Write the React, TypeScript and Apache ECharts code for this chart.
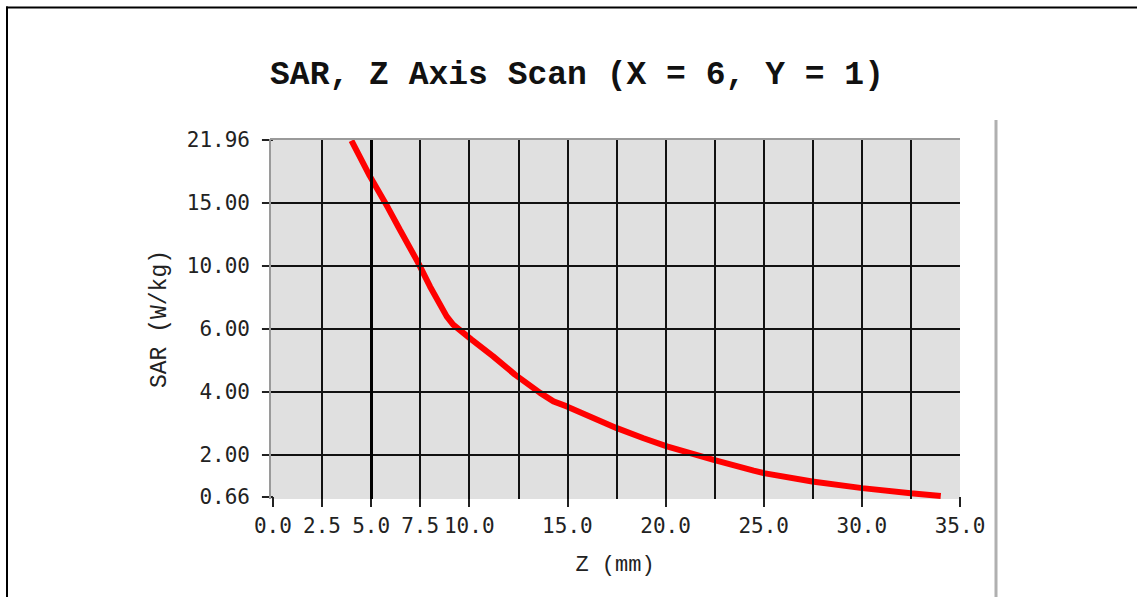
import React, { useEffect, useRef } from "react";
import * as echarts from "echarts";

// ---- data ----
const zValues = [4.0, 4.93, 5.87, 6.46, 7.4, 8.0, 8.85, 9.18, 10.12, 11.22, 12.33, 13.61, 14.29, 14.97, 17.52, 18.88, 20.07, 22.45, 24.49, 25.0, 27.47, 30.02, 32.49, 34.02];
const sarValues = [21.9, 18.0, 14.6, 12.9, 10.25, 8.7, 6.8, 6.28, 5.66, 5.13, 4.55, 3.97, 3.7, 3.54, 2.85, 2.53, 2.27, 1.84, 1.5, 1.42, 1.15, 0.94, 0.78, 0.69];

// ---- axis ticks ----
const xTickValues = [0, 2.5, 5, 7.5, 10, 15, 20, 25, 30, 35];
const yTickLabels = ["0.66", "2.00", "4.00", "6.00", "10.00", "15.00", "21.96"];
const yTickValues = [0.66, 2, 4, 6, 10, 15, 21.96];
// display slots of the (piecewise-linear) SAR scale
const yTickSlots = [0, 2, 5, 8, 11, 14, 17];

const titleText = "SAR, Z Axis Scan (X = 6, Y = 1)";
const xName = "Z (mm)";
const yName = "SAR (W/kg)";

function sarToSlot(v: number): number {
  for (let i = 0; i < yTickValues.length - 1; i++) {
    const a = yTickValues[i], b = yTickValues[i + 1];
    if (v <= b || i === yTickValues.length - 2) {
      const t = (v - a) / (b - a);
      return yTickSlots[i] + t * (yTickSlots[i + 1] - yTickSlots[i]);
    }
  }
  return 0;
}

const X_MIN = -0.15, X_MAX = 35;
const Y_MIN = -0.1, Y_MAX = 17.05;

export default function App() {
  const ref = useRef<HTMLDivElement>(null);
  useEffect(() => {
    document.body.style.margin = "0";
    const chart = echarts.init(ref.current!, undefined, { renderer: "svg" });
    const labelFont = "'DejaVu Sans Mono', monospace";
    const serifMono = "'Liberation Mono', 'Courier New', monospace";

    const vGrid: any[] = [];
    for (let k = 1; k * 2.5 < 35; k++) {
      const v = k * 2.5;
      if (v === 5) continue;
      vGrid.push({ xAxis: v });
    }
    const hGrid = yTickSlots.slice(1, -1).map((s) => ({ yAxis: s }));

    chart.setOption({
      animation: false,
      backgroundColor: "#ffffff",
      title: {
        text: titleText,
        left: 577,
        top: 59,
        textAlign: "center",
        padding: 0,
        textStyle: { fontFamily: serifMono, fontWeight: "bold", fontSize: 33, color: "#111" },
      },
      grid: {
        left: 270,
        right: 177,
        top: 139,
        bottom: 98,
        show: true,
        backgroundColor: "#e0e0e0",
        borderWidth: 0,
        containLabel: false,
      },
      xAxis: {
        type: "value",
        min: X_MIN,
        max: X_MAX,
        offset: 3,
        name: xName,
        nameLocation: "middle",
        nameGap: 52,
        nameTextStyle: { fontFamily: serifMono, fontSize: 22, color: "#222" },
        axisLine: { show: false },
        axisTick: { show: true, length: 10, customValues: xTickValues, lineStyle: { color: "#222", width: 2 } },
        axisLabel: {
          customValues: xTickValues,
          margin: 13,
          fontFamily: labelFont,
          fontSize: 21,
          color: "#222",
          formatter: (v: number) => v.toFixed(1),
        },
        splitLine: { show: false },
      },
      yAxis: {
        type: "value",
        min: Y_MIN,
        max: Y_MAX,
        offset: 3,
        name: yName,
        nameLocation: "middle",
        nameGap: 96,
        nameTextStyle: { fontFamily: serifMono, fontSize: 23, color: "#222" },
        axisLine: { show: false },
        axisTick: { show: true, length: 11, customValues: yTickSlots, lineStyle: { color: "#222", width: 2 } },
        axisLabel: {
          customValues: yTickSlots,
          margin: 17,
          fontFamily: labelFont,
          fontSize: 21,
          color: "#222",
          formatter: (v: number) => {
            const i = yTickSlots.findIndex((s) => Math.abs(s - v) < 1e-6);
            return i >= 0 ? yTickLabels[i] : "";
          },
        },
        splitLine: { show: false },
      },
      graphic: [
        { type: "line", shape: { x1: 6, y1: 7.5, x2: 1137, y2: 7.5 }, style: { stroke: "#000", lineWidth: 2 } },
        { type: "line", shape: { x1: 7, y1: 6.5, x2: 7, y2: 597 }, style: { stroke: "#000", lineWidth: 2 } },
        { type: "line", shape: { x1: 996, y1: 120, x2: 996, y2: 597 }, style: { stroke: "#b0b0b0", lineWidth: 3 } },
      ],
      series: [
        {
          type: "line",
          z: 1,
          silent: true,
          symbol: "none",
          data: [],
          lineStyle: { opacity: 0 },
          markLine: {
            silent: true,
            symbol: ["none", "none"],
            label: { show: false },
            animation: false,
            lineStyle: { color: "#111", width: 2, type: "solid" },
            data: [
              ...vGrid,
              ...hGrid,
              { xAxis: 5, lineStyle: { color: "#000", width: 3, type: "solid" } },
              { xAxis: X_MIN, lineStyle: { color: "#9a9a9a", width: 2, type: "solid" } },
              { yAxis: Y_MAX, lineStyle: { color: "#9a9a9a", width: 2, type: "solid" } },
            ],
          },
        },
        {
          type: "line",
          z: 3,
          symbol: "none",
          smooth: false,
          data: zValues.map((z, i) => [z, sarToSlot(sarValues[i])]),
          lineStyle: { color: "#ff0000", width: 6 },
          itemStyle: { color: "#ff0000" },
        },
      ],
    });
    return () => chart.dispose();
  }, []);
  return <div ref={ref} style={{ width: 1137, height: 597 }} />;
}
